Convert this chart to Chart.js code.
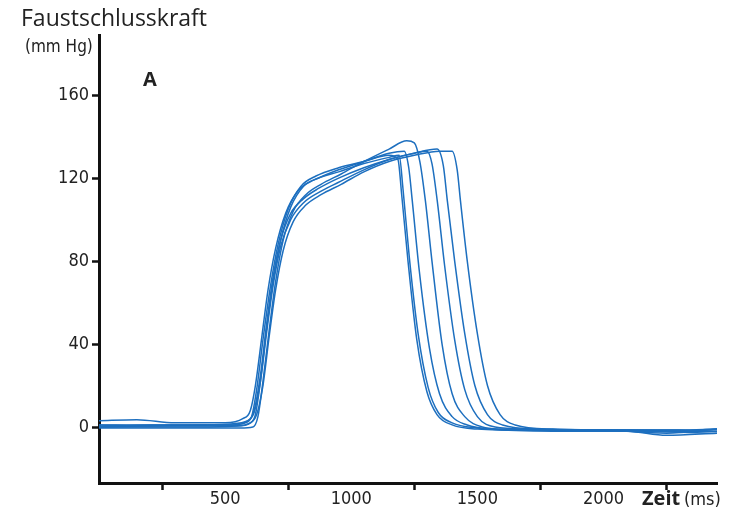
<!DOCTYPE html>
<html>
<head>
<meta charset="utf-8">
<script src="https://cdn.jsdelivr.net/npm/chart.js@4.4.1/dist/chart.umd.min.js"></script>
<style>
  html, body { margin: 0; padding: 0; background: #fff; }
  canvas { display: block; }
</style>
</head>
<body>
<canvas id="grafico" width="729" height="511"></canvas>
<script>
// Zeit (ms) und Faustschlusskraft (mm Hg), sieben Versuche
const zeit1 = [0, 200, 400, 520, 580, 605, 625, 650, 680, 710, 750, 800, 860, 950, 1050, 1150, 1185, 1200, 1225, 1260, 1300, 1340, 1400, 1500, 1700, 2000, 2300, 2450];
const kraft1 = [0, 1, 1, 1, 2, 5, 18, 42, 68, 88, 105, 116, 121, 125, 128, 131, 129, 112, 80, 42, 17, 6, 1, -1, -1.5, -1.5, -1.5, -2];

const zeit2 = [0, 150, 300, 500, 570, 600, 620, 645, 670, 700, 740, 790, 850, 950, 1050, 1150, 1190, 1205, 1230, 1265, 1305, 1345, 1400, 1500, 1700, 2000, 2250, 2450];
const kraft2 = [3, 3.5, 2, 2, 4, 8, 20, 43, 66, 86, 103, 114, 119, 123, 127, 130, 131, 115, 82, 45, 19, 7, 2, -0.5, -1.5, -1.5, -2, -1];

const zeit3 = [0, 200, 400, 550, 600, 620, 640, 665, 690, 720, 760, 810, 870, 950, 1050, 1150, 1210, 1228, 1242, 1270, 1310, 1350, 1400, 1460, 1550, 1800, 2100, 2450];
const kraft3 = [1, 0.5, 0.5, 0.5, 2, 6, 22, 48, 70, 90, 106, 116, 120, 124, 128, 132, 133, 125, 109, 75, 38, 16, 5, 1, -1, -2, -2, -3];

const zeit4 = [0, 200, 400, 560, 610, 630, 650, 675, 700, 730, 770, 820, 880, 960, 1050, 1150, 1220, 1250, 1272, 1294, 1320, 1360, 1400, 1450, 1520, 1600, 1800, 2100, 2250, 2450];
const kraft4 = [-0.5, -0.5, -0.5, -0.5, 0, 5, 22, 47, 70, 90, 104, 112, 117, 122, 128, 134, 138, 137, 128, 109, 80, 40, 16, 5, 0, -1, -1.5, -2, -4, -3];

const zeit5 = [0, 200, 400, 520, 590, 615, 640, 665, 690, 720, 760, 810, 870, 950, 1050, 1150, 1250, 1300, 1320, 1341, 1370, 1410, 1450, 1500, 1570, 1700, 2000, 2300, 2450];
const kraft5 = [1, 1, 1, 1.5, 3, 8, 25, 50, 72, 90, 103, 110, 115, 120, 125, 129, 132, 133, 127, 109, 78, 42, 18, 5, 0, -1, -1.5, -1.5, -1];

const zeit6 = [0, 200, 400, 530, 590, 615, 640, 665, 690, 720, 760, 810, 870, 950, 1050, 1150, 1250, 1340, 1365, 1381, 1410, 1450, 1490, 1540, 1600, 1750, 2000, 2250, 2450];
const kraft6 = [0, 0.5, 1, 1, 3, 7, 22, 46, 68, 87, 100, 108, 113, 118, 124, 129, 132, 134, 126, 109, 80, 45, 20, 6, 1, -1, -1.5, -3, -1];

const zeit7 = [0, 200, 400, 540, 600, 625, 650, 675, 700, 730, 770, 820, 880, 960, 1050, 1150, 1250, 1350, 1400, 1420, 1433, 1460, 1500, 1540, 1590, 1650, 1800, 2100, 2300, 2450];
const kraft7 = [0, 0, 0, 0.5, 2, 6, 20, 44, 66, 85, 99, 107, 112, 117, 123, 128, 131, 133, 133, 124, 109, 80, 45, 20, 6, 1, -1, -1.5, -2, -2];

const yTicks = [0, 40, 80, 120, 160];
const xTicks = [250, 500, 750, 1000, 1250, 1500, 1750, 2000, 2250];
const xLabels = [500, 1000, 1500, 2000];

const versuche = [[zeit1, kraft1], [zeit2, kraft2], [zeit3, kraft3], [zeit4, kraft4], [zeit5, kraft5], [zeit6, kraft6], [zeit7, kraft7]];

const schmal = "'Liberation Sans Narrow', 'DejaVu Sans Condensed', sans-serif";
const blau = "#1d6fbf";

// Texte neben den Achsen
const beschriftung = {
  id: "beschriftung",
  afterDraw(chart) {
    const c = chart.ctx;
    c.save();
    c.fillStyle = "#222";
    c.textBaseline = "alphabetic";
    c.textAlign = "left";
    c.font = "23px 'Open Sans', sans-serif";
    c.fillText("Faustschlusskraft", 21, 26);
    c.font = "17px " + schmal;
    c.fillText("(mm Hg)", 25, 52);
    c.font = "bold 20px 'Open Sans', sans-serif";
    c.fillText("A", 143, 86);
    c.font = "bold 20px 'Open Sans', sans-serif";
    c.fillText("Zeit", 642, 505);
    c.font = "18px " + schmal;
    c.fillText("(ms)", 684, 505);
    c.restore();
  }
};

const ctx = document.getElementById("grafico").getContext("2d");

new Chart(ctx, {
  type: "line",
  data: {
    datasets: versuche.map(([zs, ks]) => ({
      data: zs.map((z, i) => ({ x: z, y: ks[i] })),
      borderColor: blau,
      borderWidth: 1.5,
      pointRadius: 0,
      fill: false,
      cubicInterpolationMode: "monotone"
    }))
  },
  options: {
    responsive: false,
    animation: false,
    devicePixelRatio: 1,
    layout: { padding: { top: 35, right: 12, left: 0, bottom: 0 } },
    plugins: { legend: { display: false }, tooltip: { enabled: false } },
    scales: {
      x: {
        type: "linear",
        min: 0,
        max: 2450,
        afterBuildTicks: s => { s.ticks = xTicks.map(v => ({ value: v })); },
        afterFit: s => { s.height = 28; },
        border: { color: "#111", width: 3 },
        grid: {
          drawOnChartArea: false,
          tickLength: 7,
          tickWidth: 2.5,
          tickColor: c => (c.tick && xLabels.includes(c.tick.value)) ? "rgba(0,0,0,0)" : "#111"
        },
        ticks: {
          autoSkip: false,
          maxRotation: 0,
          padding: -1,
          color: "#222",
          font: { family: schmal, size: 18 },
          callback: v => xLabels.includes(v) ? String(v) : ""
        }
      },
      y: {
        type: "linear",
        min: -27,
        max: 189,
        afterBuildTicks: s => { s.ticks = yTicks.map(v => ({ value: v })); },
        afterFit: s => { s.width = 99; },
        border: { color: "#111", width: 3 },
        grid: {
          drawOnChartArea: false,
          tickLength: 7,
          tickWidth: 2.5,
          tickColor: "#111"
        },
        ticks: {
          padding: 3,
          color: "#222",
          font: { family: schmal, size: 18 }
        }
      }
    }
  },
  plugins: [beschriftung]
});
</script>
</body>
</html>
